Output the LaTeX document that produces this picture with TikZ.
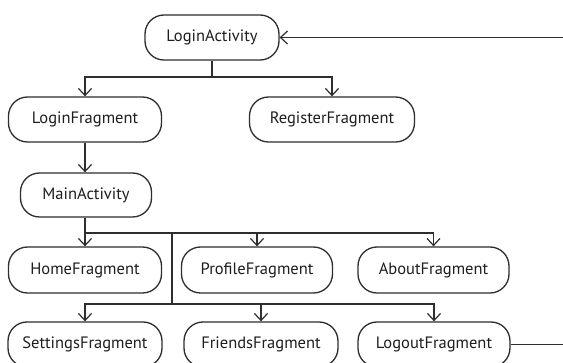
\documentclass[tikz,border=0pt]{standalone}
\usepackage{fontspec}
\setmainfont{PT Sans}
\usetikzlibrary{arrows.meta}
\definecolor{linec}{HTML}{2E2E2E}
\definecolor{textc}{HTML}{1E1E1E}
\tikzset{
  box/.style={draw=linec, line width=1.3pt, rounded corners=19pt, minimum height=45pt, inner sep=0pt, text=textc, font=\fontsize{16.5}{19}\selectfont},
  conn/.style={draw=linec, line width=1.3pt},
  arr/.style={conn, -{Straight Barb[length=7pt,width=13pt,line width=1.2pt]}}
}
\begin{document}
\begin{tikzpicture}[x=1pt,y=-1pt]
\clip (0,0) rectangle (563,363);
\fill[white] (0,0) rectangle (563,363);
\node[box, minimum width=134pt] (la) at (212,37.5) {LoginActivity};
\node[box, minimum width=153pt] (lf) at (85,119.5) {LoginFragment};
\node[box, minimum width=165pt] (rf) at (332,119.5) {RegisterFragment};
\node[box, minimum width=131pt, minimum height=44pt] (ma) at (86,195) {MainActivity};
\node[box, minimum width=153pt, minimum height=46pt] (hf) at (85,270) {HomeFragment};
\node[box, minimum width=151pt, minimum height=46pt] (pf) at (257,270) {ProfileFragment};
\node[box, minimum width=151pt, minimum height=46pt] (af) at (433.5,270) {AboutFragment};
\node[box, minimum width=154pt] (sf) at (85,344.5) {SettingsFragment};
\node[box, minimum width=154pt] (ff) at (261,344.5) {FriendsFragment};
\node[box, minimum width=152pt] (lo) at (434,344.5) {LogoutFragment};
% LoginActivity branches
\coordinate (b1) at (212,77);
\draw[conn] (la.south) -- (b1);
\draw[arr] (b1) -| (lf.north);
\draw[arr] (b1) -| (rf.north);
% LoginFragment to MainActivity
\draw[arr] (lf.south) -- (lf.south |- ma.north);
% MainActivity branches
\coordinate (b2) at (85,233);
\coordinate (b3) at (172,304);
\draw[conn] (ma.south -| b2) -- (b2);
\draw[arr] (b2) -- (hf.north);
\draw[arr] (b2) -| (pf.north);
\draw[arr] (b2) -| (af.north);
\draw[conn] (b2 -| b3) -- (b3);
\draw[arr] (b3) -| (sf.north);
\draw[arr] (b3) -| (ff.north);
\draw[arr] (b3) -| (lo.north);
% Logout back to LoginActivity
\coordinate (rt) at (580,344.5);
\draw[arr] (lo.east) -- (rt) |- (la.east);
\end{tikzpicture}
\end{document}
